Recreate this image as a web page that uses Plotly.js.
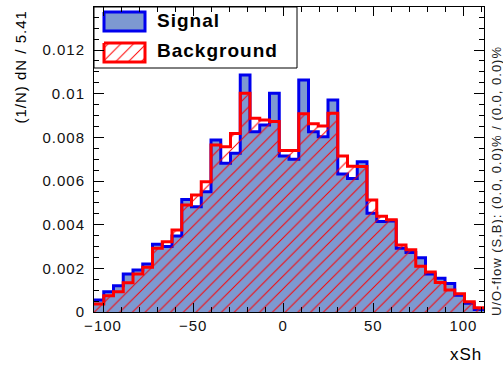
<!DOCTYPE html>
<html>
<head>
<meta charset="utf-8">
<script src="https://cdn.plot.ly/plotly-3.0.1.min.js"></script>
<style>
html,body{margin:0;padding:0;background:#fff;}
svg text{letter-spacing:1px;}
</style>
</head>
<body>
<div id="chart" style="width:503px;height:365px;"></div>
<script>
// ---- data ----
const X_MIN = -105.0;
const BIN_WIDTH = 5.41;
const signalValues = [
  0.00055, 0.00093, 0.00120, 0.00174, 0.00192, 0.00220, 0.00310, 0.00300, 0.00348, 0.00515,
  0.00482, 0.00551, 0.00788, 0.00681, 0.00727, 0.01085, 0.00826, 0.00856, 0.01002, 0.00715,
  0.00700, 0.01063, 0.00826, 0.00803, 0.00971, 0.00632, 0.00612, 0.00688, 0.00452, 0.00415,
  0.00417, 0.00292, 0.00272, 0.00248, 0.00174, 0.00155, 0.00130, 0.00077, 0.00040, 0.00012
];
const backgroundValues = [
  0.00037, 0.00075, 0.00093, 0.00134, 0.00174, 0.00205, 0.00292, 0.00322, 0.00376, 0.00490,
  0.00536, 0.00597, 0.00765, 0.00757, 0.00818, 0.01002, 0.00887, 0.00879, 0.00872, 0.00740,
  0.00740, 0.00908, 0.00862, 0.00852, 0.00910, 0.00715, 0.00668, 0.00666, 0.00513, 0.00438,
  0.00423, 0.00307, 0.00285, 0.00210, 0.00183, 0.00135, 0.00101, 0.00084, 0.00047, 0.00020
];
const xTickVals = [-100, -50, 0, 50, 100];
const xTickText = ["\u2212100", "\u221250", "0", "50", "100"];
const yTickVals = [0, 0.002, 0.004, 0.006, 0.008, 0.010, 0.012];
const yTickText = ["0", "0.002", "0.004", "0.006", "0.008", "0.01", "0.012"];
const legendLabels = ["Signal", "Background"];
const yTitle = "(1/N) dN / 5.41";
const xTitle = "xSh";
const flowText = "U/O-flow (S,B): (0.0, 0.0)% / (0.0, 0.0)%";

// ---- geometry helpers ----
const nBins = signalValues.length;
const edges = Array.from({length: nBins + 1}, (_, i) => X_MIN + i * BIN_WIDTH);
const stepY = arr => arr.concat([arr[arr.length - 1]]);

const FONT = "Liberation Sans, Arial, Helvetica, sans-serif";
const SIG_LINE = "#0000ee", SIG_FILL = "#7d99d1", BKG = "#ff0000";
const HATCH = {shape: "/", fgcolor: BKG, size: 9, solidity: 0.11, fgopacity: 1};

// legend swatch boxes (pixel coordinates in overlay axes)
function box(x0, x1, y0, y1) { return {x: [x0, x1, x1, x0, x0], y: [y0, y0, y1, y1, y0]}; }
const sw1 = box(104, 145, 12, 31);
const sw2 = box(104, 145, 43, 62);

const traces = [
  {
    type: "scatter", mode: "lines", x: edges, y: stepY(signalValues),
    line: {shape: "hv", color: SIG_LINE, width: 3},
    fill: "tozeroy", fillcolor: SIG_FILL, hoverinfo: "skip", showlegend: false
  },
  {
    type: "scatter", mode: "lines", x: edges, y: stepY(backgroundValues),
    line: {shape: "hv", color: BKG, width: 3},
    fill: "tozeroy", fillcolor: "rgba(0,0,0,0)",
    fillpattern: Object.assign({bgcolor: "rgba(0,0,0,0)"}, HATCH),
    hoverinfo: "skip", showlegend: false
  },
  {
    type: "scatter", mode: "lines", x: sw1.x, y: sw1.y, xaxis: "x2", yaxis: "y2",
    line: {color: SIG_LINE, width: 3}, fill: "toself", fillcolor: SIG_FILL,
    hoverinfo: "skip", showlegend: false
  },
  {
    type: "scatter", mode: "lines", x: sw2.x, y: sw2.y, xaxis: "x2", yaxis: "y2",
    line: {color: BKG, width: 3}, fill: "toself", fillcolor: "#ffffff",
    fillpattern: Object.assign({bgcolor: "#ffffff"}, HATCH),
    hoverinfo: "skip", showlegend: false
  }
];

const L = 94, R = 484, T = 7, B = 312;
const W = 503, H = 365;
const px2paperX = px => (px - L) / (R - L);
const px2paperY = py => (B - py) / (B - T);

const layout = {
  width: W, height: H,
  margin: {l: L, r: W - R, t: T, b: H - B, pad: 0},
  paper_bgcolor: "#ffffff", plot_bgcolor: "#ffffff",
  font: {family: FONT, color: "#000", size: 15},
  showlegend: false,
  xaxis: {
    range: [X_MIN, X_MIN + nBins * BIN_WIDTH],
    tickvals: xTickVals, ticktext: xTickText,
    ticks: "inside", ticklen: 9, tickwidth: 1, tickcolor: "#000",
    minor: {ticks: "inside", ticklen: 5, dtick: 10, tick0: 0, tickcolor: "#000", showgrid: false},
    showline: true, linecolor: "#000", linewidth: 1, mirror: "allticks",
    showgrid: false, zeroline: false, tickfont: {size: 15, family: FONT, color: "#111"},
    fixedrange: true
  },
  yaxis: {
    range: [0, (B - T) / 21833],
    tickvals: yTickVals, ticktext: yTickText,
    ticks: "inside", ticklen: 10, tickwidth: 1, tickcolor: "#000",
    minor: {ticks: "inside", ticklen: 5, dtick: 0.0005, tick0: 0, tickcolor: "#000", showgrid: false},
    showline: true, linecolor: "#000", linewidth: 1, mirror: "allticks",
    showgrid: false, zeroline: false, tickfont: {size: 15, family: FONT, color: "#111"},
    ticklabelstandoff: 5,
    fixedrange: true
  },
  xaxis2: {overlaying: "x", range: [L, R], visible: false, fixedrange: true},
  yaxis2: {overlaying: "y", range: [B, T], visible: false, fixedrange: true},
  shapes: [
    {type: "rect", xref: "paper", yref: "paper", layer: "below",
     x0: 0, x1: px2paperX(297), y0: px2paperY(68), y1: 1,
     fillcolor: "#ffffff", line: {color: "#000", width: 1}}
  ],
  annotations: [
    {text: "<b>" + legendLabels[0] + "</b>", xref: "paper", yref: "paper",
     x: px2paperX(155), y: px2paperY(20), xanchor: "left", yanchor: "middle",
     showarrow: false, font: {size: 19, family: FONT, color: "#000"}},
    {text: "<b>" + legendLabels[1] + "</b>", xref: "paper", yref: "paper",
     x: px2paperX(155), y: px2paperY(50), xanchor: "left", yanchor: "middle",
     showarrow: false, font: {size: 19, family: FONT, color: "#000"}},
    {text: yTitle, xref: "paper", yref: "paper", textangle: -90,
     x: px2paperX(20), y: px2paperY(9), xanchor: "center", yanchor: "top",
     showarrow: false, font: {size: 15, family: FONT, color: "#000"}},
    {text: xTitle, xref: "paper", yref: "paper",
     x: px2paperX(484), y: px2paperY(354), xanchor: "right", yanchor: "middle",
     showarrow: false, font: {size: 17, family: FONT, color: "#000"}},
    {text: flowText, xref: "paper", yref: "paper", textangle: -90,
     x: px2paperX(496), y: px2paperY(318), xanchor: "center", yanchor: "bottom",
     showarrow: false, font: {size: 13, family: FONT, color: "#222"}}
  ]
};

Plotly.newPlot("chart", traces, layout, {staticPlot: true, displayModeBar: false});
</script>
</body>
</html>
